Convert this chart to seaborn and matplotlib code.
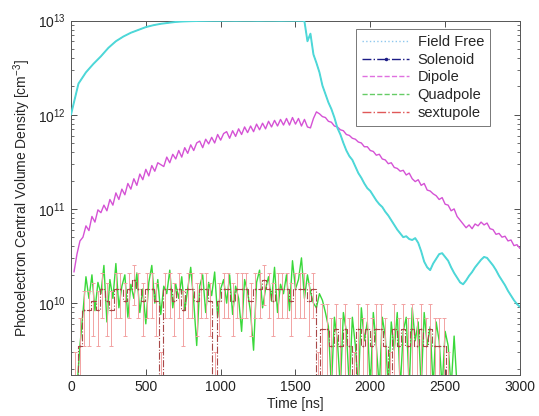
import numpy as np
import pandas as pd
import matplotlib
matplotlib.use("Agg")
import matplotlib.pyplot as plt
from matplotlib.lines import Line2D
import seaborn as sns

# ---------------- data ----------------
# Field Free (log10 of density, cm^-3)
ff_time = np.concatenate([np.arange(0, 1551, 50), np.arange(1560, 3001, 20)])
field_free_log10 = [
    12.00, 12.33, 12.45, 12.54, 12.62, 12.71, 12.78, 12.83, 12.87, 12.90,
    12.93, 12.95, 12.965, 12.975, 12.985, 12.99, 12.993, 12.995, 12.996, 12.997,
    12.997, 12.998, 12.997, 12.998, 12.998, 12.997, 12.998, 12.998, 12.997, 12.998,
    12.998, 12.997,
    12.99, 12.78, 12.86, 12.64, 12.55, 12.45, 12.31, 12.22, 12.13, 12.06,
    11.97, 11.86, 11.79, 11.70, 11.62, 11.56, 11.52, 11.45, 11.38, 11.33,
    11.27, 11.22, 11.19, 11.14, 11.09, 11.05, 11.02, 10.97, 10.93, 10.88,
    10.83, 10.78, 10.74, 10.70, 10.71, 10.68, 10.67, 10.69, 10.64, 10.55,
    10.44, 10.38, 10.35, 10.42, 10.47, 10.52, 10.53, 10.49, 10.45, 10.38,
    10.32, 10.27, 10.22, 10.20, 10.24, 10.29, 10.33, 10.38, 10.42, 10.46,
    10.49, 10.48, 10.44, 10.40, 10.35, 10.29, 10.24, 10.19, 10.13, 10.08,
    10.03, 9.99, 9.96,
]
# Solenoid trace coincides with the field-free one (hidden underneath)
solenoid_log10 = list(field_free_log10)

# Dipole
dip_time = np.arange(20, 3001, 20)
dipole_log10 = [
    10.33, 10.52, 10.66, 10.70, 10.82, 10.77, 10.92, 10.86, 10.99, 10.96,
    11.04, 10.98, 11.10, 11.04, 11.17, 11.10, 11.21, 11.15, 11.27, 11.21,
    11.32, 11.25, 11.37, 11.31, 11.42, 11.35, 11.46, 11.40, 11.49, 11.47,
    11.45, 11.55, 11.49, 11.58, 11.53, 11.62, 11.55, 11.65, 11.59, 11.68,
    11.62, 11.70, 11.72, 11.65, 11.74, 11.69, 11.76, 11.70, 11.79, 11.73,
    11.80, 11.82, 11.75, 11.83, 11.77, 11.85, 11.79, 11.87, 11.81, 11.88,
    11.82, 11.90, 11.84, 11.91, 11.85, 11.93, 11.87, 11.94, 11.88, 11.95,
    11.89, 11.96, 11.89, 11.97, 11.90, 11.96, 11.88, 11.95, 11.87, 11.86,
    11.96, 12.03, 12.01, 11.98, 11.97, 11.93, 11.92, 11.88, 11.87, 11.84,
    11.83, 11.79, 11.78, 11.75, 11.74, 11.71, 11.70, 11.66, 11.66, 11.62,
    11.61, 11.57, 11.58, 11.53, 11.52, 11.48, 11.49, 11.44, 11.43, 11.40,
    11.41, 11.36, 11.38, 11.32, 11.29, 11.31, 11.25, 11.27, 11.20, 11.19,
    11.16, 11.14, 11.10, 11.12, 11.05, 11.04, 10.98, 11.00, 10.92, 10.88,
    10.84, 10.80, 10.83, 10.79, 10.84, 10.82, 10.86, 10.83, 10.85, 10.79,
    10.78, 10.73, 10.74, 10.70, 10.71, 10.66, 10.67, 10.61, 10.62, 10.58,
]

# Quadpole
quad_time = np.arange(40, 2581, 20)
quadpole_log10 = [
    9.10, 9.55, 9.90, 10.28, 10.05, 10.30, 9.92, 10.22, 10.10, 10.40,
    9.80, 10.25, 10.05, 10.42, 9.95, 10.18, 10.30, 9.85, 10.20, 10.05,
    10.32, 9.90, 10.15, 9.78, 10.22, 10.40, 10.00, 10.25, 9.88, 10.18,
    10.10, 10.35, 9.95, 10.20, 10.05, 10.28, 9.92, 10.15, 10.38, 10.02,
    9.55, 10.18, 10.30, 9.90, 10.22, 10.08, 10.33, 9.85, 10.15, 10.25,
    10.00, 10.30, 9.88, 10.18, 10.05, 9.70, 10.25, 10.12, 9.90, 9.50,
    10.22, 10.35, 9.95, 10.15, 10.28, 10.02, 10.38, 9.90, 10.20, 10.10,
    10.30, 9.92, 10.45, 10.15, 10.25, 10.48, 10.05, 10.30, 10.12, 10.00,
    9.95, 10.10, 10.03, 9.90, 9.75, 9.10, 9.85, 9.60, 9.10, 9.90,
    9.70, 9.10, 9.85, 9.55, 9.10, 9.95, 9.60, 9.80, 9.10, 9.90,
    9.55, 9.10, 9.85, 9.65, 9.10, 9.80, 9.50, 9.90, 9.10, 9.70,
    9.85, 9.10, 9.95, 9.60, 9.80, 9.10, 9.90, 9.55, 9.75, 9.10,
    9.80, 9.60, 9.10, 9.70, 9.55, 9.10, 9.65, 9.10,
]

# sextupole (units of 1e9 cm^-3) with error bars
sext_time = np.arange(30, 2521, 30)
sextupole_1e9 = [
    1.5, 3.5, 8.5, 8.5, 10.5, 8.5, 14, 10.5, 8.5, 14,
    14, 10.5, 14, 17.5, 14, 10.5, 14, 14, 10.5, 1.5,
    14, 14, 10.5, 14, 8.5, 14, 14, 10.5, 14, 14,
    10.5, 1.5, 10.5, 14, 14, 10.5, 14, 14, 14, 10.5,
    14, 14, 17.5, 14, 10.5, 14, 14, 14, 10.5, 14,
    14, 14, 10.5, 14, 1.5, 5.25, 5.25, 3.5, 5.25, 3.5,
    5.25, 3.5, 1.5, 5.25, 3.5, 5.25, 3.5, 5.25, 5.25, 3.5,
    1.5, 5.25, 3.5, 5.25, 3.5, 5.25, 3.5, 5.25, 3.5, 5.25,
    3.5, 3.5, 3.5, 1.5,
]
sextupole_err_1e9 = [
    1.5, 3.5, 5, 5, 6, 5, 7, 6, 5, 7,
    7, 6, 7, 8, 7, 6, 7, 7, 6, 1.5,
    7, 7, 6, 7, 5, 7, 7, 6, 7, 7,
    6, 1.5, 6, 7, 7, 6, 7, 7, 7, 6,
    7, 7, 8, 7, 6, 7, 7, 7, 6, 7,
    7, 7, 6, 7, 1.5, 4.5, 4.5, 3.5, 4.5, 3.5,
    4.5, 3.5, 1.5, 4.5, 3.5, 4.5, 3.5, 4.5, 4.5, 3.5,
    1.5, 4.5, 3.5, 4.5, 3.5, 4.5, 3.5, 4.5, 3.5, 4.5,
    3.5, 3.5, 3.5, 1.5,
]

labels = ["Field Free", "Solenoid", "Dipole", "Quadpole", "sextupole"]
x_ticks = [0, 500, 1000, 1500, 2000, 2500, 3000]

# ---------------- styling ----------------
sns.set_style("ticks")
plt.rcParams["font.family"] = ["Liberation Sans", "DejaVu Sans"]
plt.rcParams["mathtext.fontset"] = "custom"
plt.rcParams["mathtext.rm"] = "Liberation Sans"

c_ff = "#4dd8d8"
c_sol = "#1c1c86"
c_dip = "#d552d5"
c_quad = "#3ad83a"
c_sext = "#a84848"

fig = plt.figure(figsize=(5.39, 4.16), dpi=100)
ax = fig.add_axes([0.1317, 0.0986, 0.8330, 0.8521])

ff_df = pd.DataFrame({"t": ff_time, "n": 10 ** np.array(field_free_log10)})
sol_df = pd.DataFrame({"t": ff_time, "n": 10 ** np.array(solenoid_log10)})
dip_df = pd.DataFrame({"t": dip_time, "n": 10 ** np.array(dipole_log10)})
quad_df = pd.DataFrame({"t": quad_time, "n": 10 ** np.array(quadpole_log10)})
sext_df = pd.DataFrame({"t": sext_time, "n": np.array(sextupole_1e9) * 1e9,
                        "e": np.array(sextupole_err_1e9) * 1e9})

sns.lineplot(data=quad_df, x="t", y="n", ax=ax, color=c_quad, lw=1.0,
             estimator=None, sort=False, zorder=2)
ax.errorbar(sext_df["t"], sext_df["n"], yerr=sext_df["e"], fmt="none",
            ecolor="#f2a2a2", elinewidth=0.7, capsize=1.5, capthick=0.7, zorder=3)
sns.lineplot(data=sext_df, x="t", y="n", ax=ax, color=c_sext, lw=0.8,
             linestyle="-.", drawstyle="steps-mid", estimator=None, sort=False,
             marker=".", markersize=2.5, markeredgewidth=0, zorder=3)
sns.lineplot(data=sol_df, x="t", y="n", ax=ax, color=c_sol, lw=0.4,
             estimator=None, sort=False, zorder=4)
sns.lineplot(data=dip_df, x="t", y="n", ax=ax, color=c_dip, lw=1.0,
             estimator=None, sort=False, zorder=5)
sns.lineplot(data=ff_df, x="t", y="n", ax=ax, color=c_ff, lw=1.4,
             estimator=None, sort=False, zorder=6)

ax.set_yscale("log")
ax.set_xlim(0, 3000)
ax.set_ylim(10 ** 9.237, 1e13)
ax.set_xticks(x_ticks)
ax.set_xticklabels([str(v) for v in x_ticks])
ax.set_xlabel("Time [ns]", fontsize=10, labelpad=2)
ax.set_ylabel("Photoelectron Central Volume Density [cm$^{-3}$]", fontsize=10, labelpad=4)

ax.tick_params(axis="both", which="both", direction="in", top=True, right=True,
               labelsize=10, colors="#333333", labelcolor="#222222")
ax.tick_params(axis="both", which="major", length=4, width=0.6)
ax.tick_params(axis="y", which="minor", length=2, width=0.5)
for s in ax.spines.values():
    s.set_linewidth(0.7)
    s.set_color("#555555")

handles = [
    Line2D([], [], color="#8fc8ee", lw=1.0, ls=":"),
    Line2D([], [], color=c_sol, lw=1.0, ls="-.", marker=".", markersize=3),
    Line2D([], [], color="#e070e0", lw=1.0, ls="--"),
    Line2D([], [], color="#66cc66", lw=1.0, ls="--"),
    Line2D([], [], color="#e05858", lw=1.0, ls="-."),
]
leg = ax.legend(handles, labels, loc="upper right", bbox_to_anchor=(0.933, 0.975),
                fontsize=10.5, frameon=True, fancybox=False, framealpha=1,
                edgecolor="#777777", borderaxespad=0, handlelength=3.2,
                labelspacing=0.25, borderpad=0.4, handletextpad=0.6)
leg.get_frame().set_linewidth(0.7)

fig.savefig("out.png", dpi=100)
